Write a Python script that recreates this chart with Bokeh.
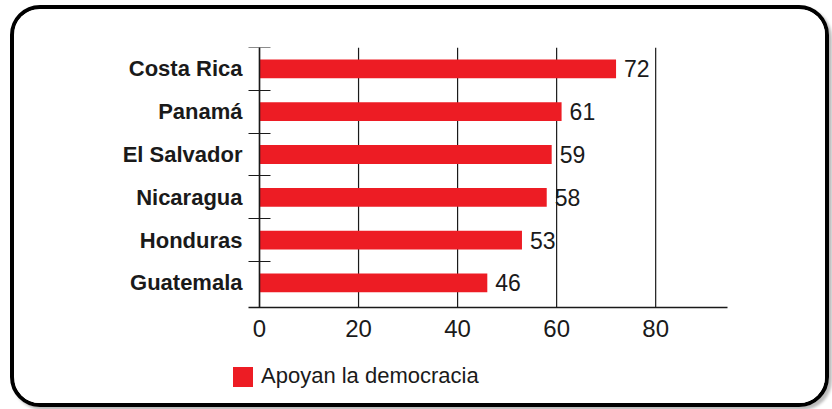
from bokeh.plotting import figure
from bokeh.models import (Range1d, FixedTicker, LinearAxis, Legend, LegendItem,
                          ColumnDataSource)
from bokeh.core.properties import value
from bokeh.embed import file_html
from bokeh.resources import INLINE

# ---- data (bottom to top) ----
countries = ["Guatemala", "Honduras", "Nicaragua", "El Salvador", "Panamá", "Costa Rica"]
apoyo = [46, 53, 58, 59, 61, 72]
x_ticks = [0, 20, 40, 60, 80]
series_name = "Apoyan la democracia"

RED = "#ED1C24"
INK = "#1a1a1a"
FONT = "Liberation Sans"

n = len(countries)
ypos = [i + 0.5 for i in range(n)]
bounds = [i + 1 for i in range(n)]
Y0 = -0.075            # level of the value axis
X_AXIS_END = 94.5
src = ColumnDataSource(dict(y=ypos, v=apoyo, lab=[str(a) for a in apoyo], name=countries))

p = figure(width=819, height=402, output_backend="svg", toolbar_location=None,
           x_range=Range1d(-32.11, 95.11), y_range=Range1d(-2.13, n),
           x_axis_location=None, y_axis_location=None,
           min_border_left=86, min_border_right=103, min_border_top=38, min_border_bottom=16)
p.outline_line_color = None
p.background_fill_color = "white"
p.border_fill_color = "white"
p.styles = {"border": "4px solid black", "border-radius": "30px",
            "margin-left": "10px", "margin-top": "5px",
            "box-shadow": "3px 3px 3px #bbbbbb", "overflow": "hidden"}

# vertical grid lines from the value axis up to the top
p.segment(x0=x_ticks, y0=[Y0] * len(x_ticks), x1=x_ticks, y1=[n] * len(x_ticks),
          line_color=INK, line_width=1.2)

bars = p.hbar(y="y", right="v", left=0, height=0.44, source=src,
              fill_color=RED, line_color=None)

p.text(x="v", y="y", text="lab", source=src, x_offset=8,
       text_baseline="middle", text_align="left",
       text_font=value(FONT), text_font_size="23px", text_color=INK)

# x axis, fixed at the bottom of the bars area
xa = LinearAxis(ticker=FixedTicker(ticks=x_ticks), fixed_location=Y0,
                bounds=(-2.2, X_AXIS_END))
xa.major_tick_in = 0
xa.major_tick_out = 0
xa.minor_tick_line_color = None
xa.axis_line_color = INK
xa.axis_line_width = 1.5
xa.major_label_standoff = 12
xa.major_label_text_font = FONT
xa.major_label_text_font_size = "24px"
xa.major_label_text_color = INK
p.add_layout(xa, "below")

# y axis at x = 0: labels at centres, tick marks at boundaries
ya = LinearAxis(ticker=FixedTicker(ticks=ypos, minor_ticks=bounds), fixed_location=0,
                bounds=(Y0, n))
ya.major_label_overrides = {yy: nm for yy, nm in zip(ypos, countries)}
ya.major_tick_in = 0
ya.major_tick_out = 0
ya.minor_tick_in = 11
ya.minor_tick_out = 11
ya.minor_tick_line_color = INK
ya.axis_line_color = INK
ya.axis_line_width = 1.5
ya.major_label_standoff = 6
ya.major_label_text_font = FONT
ya.major_label_text_font_style = "bold"
ya.major_label_text_font_size = "22px"
ya.major_label_text_color = INK
p.add_layout(ya, "left")

p.xgrid.grid_line_color = None
p.ygrid.grid_line_color = None

legend = Legend(items=[LegendItem(label=series_name, renderers=[bars])],
                location=(130, 6), orientation="horizontal",
                padding=0, margin=0, spacing=0,
                glyph_width=25, glyph_height=25, label_standoff=6,
                label_text_font=FONT, label_text_font_size="22px",
                label_text_color=INK,
                border_line_color=None, background_fill_alpha=0)
p.add_layout(legend, "center")

open("out.html", "w").write(file_html(p, INLINE))
